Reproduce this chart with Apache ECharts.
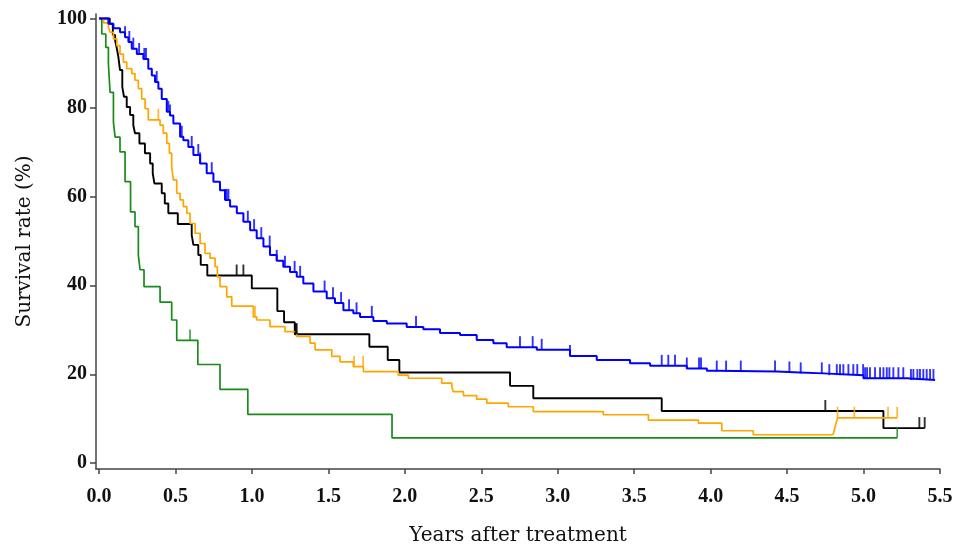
<!DOCTYPE html>
<html>
<head>
<meta charset="utf-8">
<title>Survival after treatment</title>
<script src="https://cdn.jsdelivr.net/npm/echarts@6/dist/echarts.min.js"></script>
<style>
  html, body { margin: 0; padding: 0; background: #ffffff; }
  #chart { width: 968px; height: 553px; }
</style>
</head>
<body>
<div id="chart"></div>
<script>
// Kaplan-Meier curves: event times (years) and survival (%) after each event
const blueT = [0, 0.061, 0.094, 0.137, 0.170, 0.192, 0.214, 0.247, 0.290, 0.322, 0.345, 0.366, 0.388, 0.410, 0.443, 0.464, 0.486, 0.530, 0.551, 0.584, 0.617, 0.661, 0.704, 0.748, 0.791, 0.824, 0.857, 0.901, 0.944, 0.988, 1.031, 1.075, 1.118, 1.162, 1.205, 1.249, 1.293, 1.336, 1.402, 1.489, 1.543, 1.598, 1.663, 1.707, 1.794, 1.882, 2.012, 2.121, 2.230, 2.361, 2.470, 2.579, 2.666, 2.863, 3.080, 3.255, 3.473, 3.604, 3.844, 3.975, 4.040, 4.432, 4.585, 4.737, 4.999, 5.283, 5.468];
const blueS = [100, 98.8, 97.8, 96.9, 95.8, 94.7, 93.2, 92.0, 90.9, 88.7, 87.2, 85.7, 84.2, 81.9, 79.0, 78.2, 76.4, 73.4, 72.6, 71.1, 69.3, 67.4, 65.2, 63.3, 61.4, 59.2, 57.7, 56.2, 54.3, 52.4, 50.6, 48.7, 46.8, 45.5, 44.2, 43.0, 41.9, 40.4, 38.6, 37.1, 36.0, 34.4, 33.7, 32.9, 32.0, 31.4, 30.6, 30.1, 29.3, 28.8, 27.7, 27.0, 26.1, 25.5, 24.1, 23.2, 22.5, 21.9, 21.3, 20.8, 20.6, 20.4, 20.2, 19.8, 19.1, 18.7, 18.7];
const blueCensor = [0.170, 0.198, 0.224, 0.262, 0.296, 0.307, 0.377, 0.453, 0.464, 0.541, 0.606, 0.649, 0.661, 0.737, 0.824, 0.835, 0.846, 0.973, 1.014, 1.061, 1.116, 1.162, 1.216, 1.279, 1.315, 1.475, 1.530, 1.583, 1.635, 1.684, 1.784, 2.073, 2.753, 2.836, 2.895, 3.080, 3.680, 3.723, 3.767, 3.844, 3.924, 3.937, 4.040, 4.101, 4.197, 4.421, 4.515, 4.589, 4.727, 4.776, 4.825, 4.846, 4.868, 4.901, 4.933, 4.959, 4.997, 5.010, 5.023, 5.042, 5.075, 5.108, 5.130, 5.152, 5.169, 5.195, 5.228, 5.260, 5.310, 5.326, 5.352, 5.369, 5.391, 5.413, 5.435, 5.457];

const orangeT = [0, 0.030, 0.061, 0.072, 0.094, 0.116, 0.137, 0.159, 0.181, 0.214, 0.235, 0.257, 0.279, 0.301, 0.322, 0.399, 0.420, 0.443, 0.460, 0.475, 0.486, 0.508, 0.530, 0.551, 0.574, 0.595, 0.628, 0.661, 0.693, 0.726, 0.759, 0.774, 0.791, 0.835, 0.868, 1.009, 1.031, 1.118, 1.216, 1.293, 1.380, 1.413, 1.522, 1.576, 1.663, 1.729, 1.957, 2.023, 2.241, 2.307, 2.317, 2.383, 2.470, 2.536, 2.677, 2.840, 3.298, 3.593, 3.920, 4.073, 4.279, 4.800];
const orangeS = [100, 99.0, 98.0, 96.9, 95.4, 93.9, 92.0, 90.2, 88.7, 87.6, 86.1, 84.2, 81.9, 79.7, 77.2, 76.0, 74.2, 71.9, 69.7, 66.6, 63.7, 60.7, 59.2, 57.7, 56.2, 53.9, 51.7, 49.4, 47.2, 46.1, 44.2, 41.9, 39.7, 37.4, 35.3, 32.9, 32.2, 30.7, 29.6, 28.5, 27.0, 25.5, 24.0, 22.8, 21.7, 20.6, 19.8, 19.1, 18.0, 17.2, 16.1, 15.2, 14.4, 13.5, 12.7, 11.6, 10.9, 9.7, 9.0, 7.3, 6.4, 6.4];
const orangeTailT = [4.800, 4.830, 5.220];
const orangeTailS = [6.4, 10.2, 10.2];
const orangeCensor = [0.388, 1.020, 1.668, 1.727, 4.830, 4.940, 5.160, 5.220];

const blackT = [0, 0.070, 0.090, 0.105, 0.116, 0.126, 0.137, 0.152, 0.163, 0.181, 0.203, 0.224, 0.235, 0.264, 0.300, 0.334, 0.351, 0.362, 0.410, 0.430, 0.453, 0.515, 0.606, 0.617, 0.649, 0.665, 0.708, 0.999, 1.166, 1.210, 1.280, 1.768, 1.888, 1.964, 2.688, 2.840, 3.680, 5.130, 5.400];
const blackS = [100, 98.8, 96.3, 95.1, 93.3, 91.4, 88.4, 84.6, 82.4, 80.1, 78.3, 76.0, 74.2, 71.9, 69.7, 67.4, 65.2, 62.9, 60.7, 58.4, 56.2, 53.8, 51.3, 49.1, 46.8, 44.6, 42.2, 39.3, 34.2, 31.7, 29.0, 26.2, 23.2, 20.4, 17.4, 14.6, 11.75, 7.9, 7.9];
const blackCensor = [0.900, 0.944, 1.286, 1.293, 4.750, 5.365, 5.400];

const greenT = [0, 0.018, 0.044, 0.061, 0.072, 0.094, 0.105, 0.137, 0.170, 0.206, 0.235, 0.257, 0.268, 0.294, 0.399, 0.475, 0.508, 0.646, 0.791, 0.973, 1.916, 5.220];
const greenS = [100, 96.5, 93.5, 89.8, 83.4, 76.7, 73.3, 70.0, 63.3, 56.5, 53.2, 46.8, 43.5, 39.7, 36.2, 32.2, 27.6, 22.2, 16.6, 11.0, 5.7, 5.7];
const greenCensor = [0.595, 5.220];

const xTicks = [0, 0.5, 1, 1.5, 2, 2.5, 3, 3.5, 4, 4.5, 5, 5.5];
const yTicks = [0, 20, 40, 60, 80, 100];

const COLORS = { blue: '#0000ff', orange: '#ffa500', black: '#000000', green: '#1a8a1a' };
const LABEL_FONT = 'Liberation Serif';
const TITLE_FONT = 'DejaVu Serif';

function pairs(T, S) { return T.map((t, i) => [t, S[i]]); }

// survival value in effect at time t (step function lookup)
function survAt(T, S, t) {
  let v = S[0];
  for (let i = 0; i < T.length; i++) { if (T[i] <= t) v = S[i]; }
  return v;
}

function stepLine(name, T, S, color, width) {
  return {
    name, type: 'line', step: 'end', data: pairs(T, S),
    showSymbol: false, lineStyle: { color, width }, z: 3, silent: true
  };
}

function censorMarks(name, times, T, S, color, width) {
  return {
    name: name + '-censor', type: 'scatter',
    data: times.map(t => [t, survAt(T, S, t)]),
    symbol: 'rect', symbolSize: [width, 11], symbolOffset: [0, -5.5],
    itemStyle: { color }, z: 4, silent: true
  };
}

const orangeAllT = orangeT.concat(orangeTailT);
const orangeAllS = orangeS.concat(orangeTailS);

const chart = echarts.init(document.getElementById('chart'), null, { renderer: 'canvas' });

const axisText = { fontFamily: LABEL_FONT, fontSize: 20, fontWeight: 'bold', color: '#111' };
const titleText = { fontFamily: TITLE_FONT, fontSize: 20, color: '#111' };

chart.setOption({
  animation: false,
  backgroundColor: '#ffffff',
  grid: { left: 96, right: 28, top: 14, bottom: 84, containLabel: false },
  xAxis: {
    type: 'value', min: -0.02, max: 5.5,
    name: 'Years after treatment', nameLocation: 'middle', nameGap: 57,
    nameTextStyle: titleText,
    axisLine: { show: true, onZero: false, lineStyle: { color: '#444', width: 1.5 } },
    axisTick: { show: true, length: 5, customValues: xTicks, lineStyle: { color: '#444', width: 1.5 } },
    axisLabel: { customValues: xTicks, margin: 18, formatter: v => v.toFixed(1), ...axisText },
    splitLine: { show: false }
  },
  yAxis: {
    type: 'value', min: -1.3, max: 101,
    name: 'Survival rate (%)', nameLocation: 'middle', nameGap: 61, nameRotate: 90,
    nameTextStyle: titleText,
    axisLine: { show: true, onZero: false, lineStyle: { color: '#444', width: 1.5 } },
    axisTick: { show: true, length: 6, customValues: yTicks, lineStyle: { color: '#444', width: 1.5 } },
    axisLabel: { customValues: yTicks, margin: 9, ...axisText },
    splitLine: { show: false }
  },
  series: [
    stepLine('green', greenT, greenS, COLORS.green, 1.7),
    stepLine('black', blackT, blackS, COLORS.black, 1.9),
    stepLine('orange', orangeT, orangeS, COLORS.orange, 1.7),
    {
      name: 'orange-tail', type: 'line', data: pairs(orangeTailT, orangeTailS),
      showSymbol: false, lineStyle: { color: COLORS.orange, width: 1.7 }, z: 3, silent: true
    },
    stepLine('blue', blueT, blueS, COLORS.blue, 2),
    censorMarks('green', greenCensor, greenT, greenS, COLORS.green, 1.7),
    censorMarks('black', blackCensor, blackT, blackS, COLORS.black, 1.9),
    censorMarks('orange', orangeCensor, orangeAllT, orangeAllS, COLORS.orange, 1.7),
    censorMarks('blue', blueCensor, blueT, blueS, COLORS.blue, 1.9)
  ]
});
</script>
</body>
</html>
